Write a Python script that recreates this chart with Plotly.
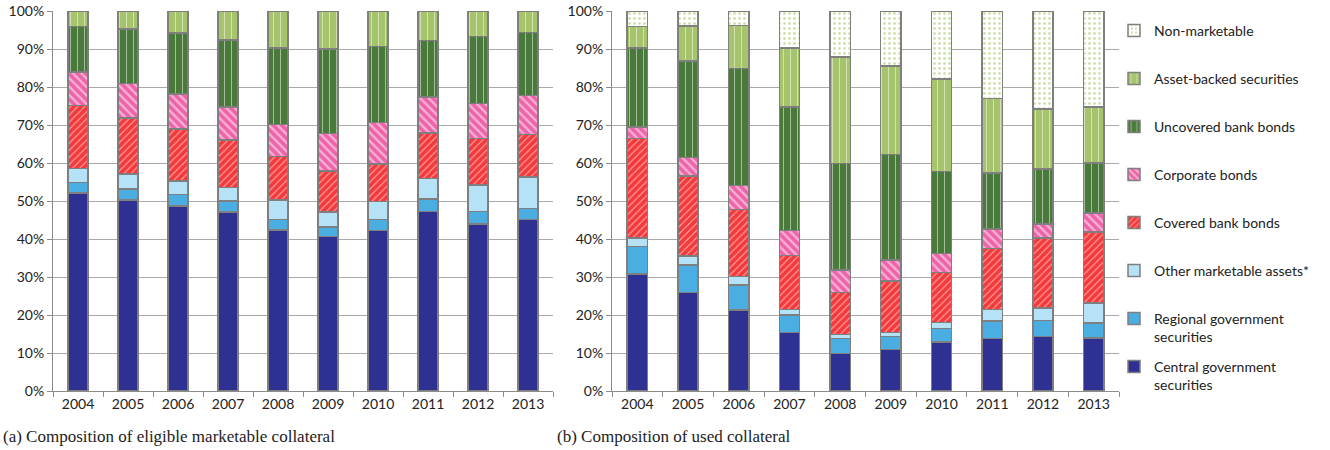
import plotly.graph_objects as go

years = ["2004", "2005", "2006", "2007", "2008", "2009", "2010", "2011", "2012", "2013"]

# (a) eligible marketable collateral, % shares
a_central = [52.1, 50.3, 48.7, 47.1, 42.4, 40.6, 42.3, 47.2, 43.9, 45.1]
a_regional = [2.8, 2.9, 3.0, 2.9, 2.7, 2.6, 2.8, 3.3, 3.4, 2.9]
a_other = [3.6, 3.9, 3.6, 3.6, 5.1, 3.9, 4.8, 5.4, 6.9, 8.3]
a_covered = [16.6, 14.7, 13.6, 12.5, 11.5, 10.8, 9.9, 12.0, 12.2, 11.2]
a_corporate = [8.8, 9.1, 9.3, 8.6, 8.4, 9.9, 10.8, 9.5, 9.3, 10.3]
a_uncovered = [12.0, 14.3, 16.0, 17.7, 20.2, 22.2, 20.0, 14.9, 17.6, 16.6]
a_abs = [4.1, 4.8, 5.8, 7.6, 9.7, 10.0, 9.4, 7.7, 6.7, 5.6]

# (b) used collateral, % shares
b_central = [30.8, 25.9, 21.3, 15.4, 9.9, 10.9, 12.9, 13.8, 14.4, 14.0]
b_regional = [7.2, 7.3, 6.6, 4.6, 3.9, 3.5, 3.5, 4.6, 4.2, 3.9]
b_other = [2.3, 2.3, 2.2, 1.5, 1.1, 1.0, 1.6, 3.1, 3.3, 5.2]
b_covered = [26.1, 21.1, 17.7, 14.1, 11.0, 13.5, 13.2, 16.0, 18.4, 18.8]
b_corporate = [3.1, 4.9, 6.3, 6.6, 6.0, 5.6, 5.0, 5.1, 3.7, 4.9]
b_uncovered = [20.8, 25.3, 30.8, 32.5, 28.0, 27.7, 21.5, 14.8, 14.4, 13.2]
b_abs = [5.6, 9.2, 11.3, 15.6, 28.0, 23.3, 24.4, 19.6, 15.8, 14.7]
b_nonmkt = [4.1, 4.0, 3.8, 9.7, 12.1, 14.5, 17.9, 23.0, 25.8, 25.3]

names = [
    "Central government<br>securities",
    "Regional government<br>securities",
    "Other marketable assets*",
    "Covered bank bonds",
    "Corporate bonds",
    "Uncovered bank bonds",
    "Asset-backed securities",
    "Non-marketable",
]

styles = [
    dict(color="#2E3192"),
    dict(color="#4BAEE2"),
    dict(color="#B5E2F7"),
    dict(color="#F5383A", pattern=dict(shape="/", fgcolor="white", bgcolor="#F5383A", size=5, solidity=0.25, fillmode="overlay")),
    dict(color="#EE62A8", pattern=dict(shape="\\", fgcolor="white", bgcolor="#EE62A8", size=6, solidity=0.4, fillmode="overlay")),
    dict(color="#4A7A3B", pattern=dict(shape="|", fgcolor="white", bgcolor="#4A7A3B", size=7, solidity=0.15, fillmode="overlay")),
    dict(color="#A6C46B", pattern=dict(shape="|", fgcolor="white", bgcolor="#A6C46B", size=7, solidity=0.15, fillmode="overlay")),
    dict(color="white", pattern=dict(shape=".", fgcolor="#9DC35E", bgcolor="white", size=5, solidity=0.25, fillmode="overlay")),
]

a_series = [a_central, a_regional, a_other, a_covered, a_corporate, a_uncovered, a_abs]
b_series = [b_central, b_regional, b_other, b_covered, b_corporate, b_uncovered, b_abs, b_nonmkt]

W, H = 1330, 450


def px(x):
    return x / W


def py(y):
    return 1 - y / H


fig = go.Figure()
line = dict(color="#7F7F7F", width=1.5)
for i, vals in enumerate(a_series):
    fig.add_trace(go.Bar(x=years, y=vals, name=names[i], showlegend=False,
                         marker=dict(**styles[i], line=line), xaxis="x", yaxis="y"))
for i, vals in enumerate(b_series):
    lbl = names[i] if "<br>" in names[i] else names[i] + "<br>\u00a0"
    fig.add_trace(go.Bar(x=years, y=vals, name=lbl, legendgroup=str(i), showlegend=True,
                         legendrank=(len(b_series) - i) * 10,
                         marker=dict(**styles[i], line=line), xaxis="x2", yaxis="y2"))

tickfont = dict(family="Lato", size=14, color="#222")
grid = "#A9A9A9"
xcommon = dict(type="category", showline=True, linecolor="#8C8C8C", linewidth=1,
               ticks="outside", tickson="boundaries", ticklen=5, tickcolor="#8C8C8C",
               tickfont=tickfont, showgrid=False, zeroline=False, automargin=False)
ycommon = dict(range=[0, 100], dtick=10, ticksuffix="%", showline=True, linecolor="#8C8C8C",
               linewidth=1, ticks="outside", ticklen=5, tickcolor="#8C8C8C",
               showgrid=True, gridcolor=grid, gridwidth=1, zeroline=False,
               tickfont=tickfont, automargin=False)

fig.update_layout(
    template="none",
    width=W, height=H,
    margin=dict(l=0, r=0, t=0, b=0),
    paper_bgcolor="white", plot_bgcolor="white",
    barmode="stack", bargap=0.6,
    xaxis=dict(domain=[px(53), px(553)], anchor="y", **xcommon),
    yaxis=dict(domain=[py(391), py(11)], anchor="x", **ycommon),
    xaxis2=dict(domain=[px(612), px(1119)], anchor="y2", **xcommon),
    yaxis2=dict(domain=[py(391), py(11)], anchor="x2", **ycommon),
    legend=dict(x=px(1114), xanchor="left", y=py(15), yanchor="top",
                traceorder="grouped", tracegroupgap=8.6, valign="top",
                font=dict(family="Lato", size=14, color="#222"),
                bgcolor="rgba(0,0,0,0)"),
    annotations=[
        dict(text="(a) Composition of eligible marketable collateral", x=px(1), y=py(436),
             xref="paper", yref="paper", xanchor="left", yanchor="middle", showarrow=False,
             font=dict(family="Liberation Serif", size=17, color="#222")),
        dict(text="(b) Composition of used collateral", x=px(555), y=py(436),
             xref="paper", yref="paper", xanchor="left", yanchor="middle", showarrow=False,
             font=dict(family="Liberation Serif", size=17, color="#222")),
    ],
)

fig.write_html("out.html", config={"displayModeBar": False},
               post_script="document.body.style.margin='0';")
